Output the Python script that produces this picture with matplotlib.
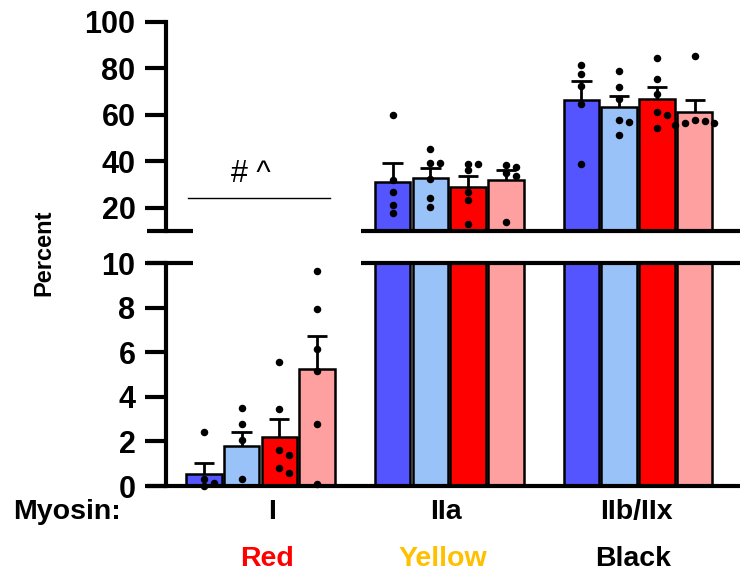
import numpy as np
import matplotlib
matplotlib.use('Agg')
import matplotlib.pyplot as plt
import matplotlib.transforms as mtransforms

plt.rcParams['font.family'] = ['Liberation Sans', 'DejaVu Sans']

#
# fibre type data (percent), 4 bars per myosin group
#
groups      = ['I', 'IIa', 'IIb/IIx']
fibre_names = ['Red', 'Yellow', 'Black']
fibre_cols  = ['#FF0000', '#FFC000', '#000000']
bar_colors  = ['#5555FF', '#99C2F8', '#FF0000', '#FFA0A0']

means_I    = [0.52, 1.79, 2.20, 5.26]
sems_I     = [0.53, 0.63, 0.80, 1.45]
means_IIa  = [31.1, 33.0, 29.0, 32.0]
sems_IIa   = [8.2, 4.3, 4.7, 4.3]
means_IIb  = [66.5, 63.5, 67.0, 61.4]
sems_IIb   = [8.1, 4.8, 4.9, 5.0]

pts_I = [
    [2.4, 0.3, 0.15, 0.0],
    [3.5, 2.8, 2.05, 0.3],
    [5.57, 3.44, 1.6, 1.4, 0.82, 0.6],
    [9.66, 7.94, 6.16, 5.16, 2.77, 0.1],
]
pts_IIa = [
    [60.0, 32.0, 26.7, 21.2, 17.6],
    [45.5, 39.4, 39.4, 32.3, 24.1, 20.3],
    [38.9, 38.9, 36.3, 26.9, 23.2, 13.1],
    [38.4, 37.7, 34.8, 33.7, 13.7],
]
pts_IIb = [
    [81.5, 77.7, 72.4, 64.6, 38.9],
    [78.8, 72.1, 66.7, 57.7, 56.9, 51.2],
    [84.4, 75.3, 68.9, 61.2, 59.8, 54.4],
    [85.5, 57.8, 57.2, 56.4, 56.4, 55.7],
]

all_means = [means_I, means_IIa, means_IIb]
all_sems  = [sems_I, sems_IIa, sems_IIb]
all_pts   = [pts_I, pts_IIa, pts_IIb]


def swarm(vals, thresh, step=0.26):
    # greedy horizontal spread of points that would overlap
    placed = []
    offs = []
    cands = [0, step, -step, 2 * step, -2 * step, 3 * step, -3 * step]
    for v in vals:
        for c in cands:
            ok = True
            for (pv, pc) in placed:
                if abs(pv - v) < thresh and abs(pc - c) < step * 0.9:
                    ok = False
                    break
            if ok:
                break
        placed.append((v, c))
        offs.append(c)
    return offs


fig = plt.figure(figsize=(7.43, 5.74), dpi=100)
ax_top = fig.add_axes([0.2234, 0.5976, 0.7726, 0.3641])
ax_bot = fig.add_axes([0.2234, 0.1533, 0.7726, 0.3885])

XMIN, XMAX = -1.0, 14.2
LW = 3.0

for ax, lo, hi in [(ax_top, 10, 100), (ax_bot, 0, 10)]:
    ax.set_xlim(XMIN, XMAX)
    ax.set_ylim(lo, hi)
    for s in ['top', 'right', 'bottom']:
        ax.spines[s].set_visible(False)
    ax.spines['left'].set_linewidth(LW)
    ax.tick_params(axis='y', length=15, width=LW, pad=7, labelsize=22)
    ax.set_xticks([])

    for g in range(3):
        for i in range(4):
            x = g * 5 + i
            m = all_means[g][i]
            e = all_sems[g][i]
            ax.bar(x, m, width=0.94, color=bar_colors[i], edgecolor='black',
                   linewidth=1.8, zorder=2)
            if lo <= m + e <= hi:
                ax.vlines(x, m, m + e, color='black', linewidth=2, zorder=3)
                ax.hlines(m + e, x - 0.27, x + 0.27, color='black', linewidth=2, zorder=3)
            vals = all_pts[g][i]
            gthresh = 0.27 if g == 0 else 2.6
            offs = swarm(vals, gthresh)
            px = [x + o for (v, o) in zip(vals, offs) if lo <= v <= hi]
            py = [v for v in vals if lo <= v <= hi]
            ax.plot(px, py, 'o', color='black', markersize=4.4, zorder=4, clip_on=False)

ax_top.set_yticks([20, 40, 60, 80, 100])
ax_bot.set_yticks([0, 2, 4, 6, 8, 10])
for ax in [ax_top, ax_bot]:
    for lab in ax.get_yticklabels():
        lab.set_fontweight('bold')

# broken-axis edges at 10
for ax in [ax_top, ax_bot]:
    ax.plot([-1.5, -0.29], [10, 10], color='black', linewidth=LW, clip_on=False,
            solid_capstyle='butt', zorder=5)
    ax.plot([4.16, XMAX], [10, 10], color='black', linewidth=LW, clip_on=False,
            solid_capstyle='butt', zorder=5)
ax_bot.plot([-1.5, XMAX], [0, 0], color='black', linewidth=LW, clip_on=False,
            solid_capstyle='butt', zorder=5)

# significance marker over type I
ax_top.plot([-0.42, 3.34], [24.3, 24.3], color='black', linewidth=1.0, clip_on=False)
ax_top.text(1.24, 31.3, '# ^', ha='center', va='baseline', fontsize=22)

# group labels
trans = mtransforms.blended_transform_factory(ax_bot.transData, fig.transFigure)
centers = [g * 5 + 1.5 for g in range(3)]
name_shift = [0.3, -0.1, -0.05]
fib_shift = [0.17, -0.18, -0.14]
for g in range(3):
    ax_bot.text(centers[g] + name_shift[g], 0.108, groups[g], transform=trans,
                ha='center', va='center', fontsize=20.5, fontweight='bold')
    ax_bot.text(centers[g] + fib_shift[g], 0.026, fibre_names[g], transform=trans,
                ha='center', va='center', fontsize=20.5, fontweight='bold',
                color=fibre_cols[g])
fig.text(0.0175, 0.108, 'Myosin:', ha='left', va='center', fontsize=20.5,
         fontweight='bold')

fig.text(0.059, 0.56, 'Percent', rotation=90, ha='center', va='center',
         fontsize=17, fontweight='bold')

fig.savefig('out.png', dpi=100)
